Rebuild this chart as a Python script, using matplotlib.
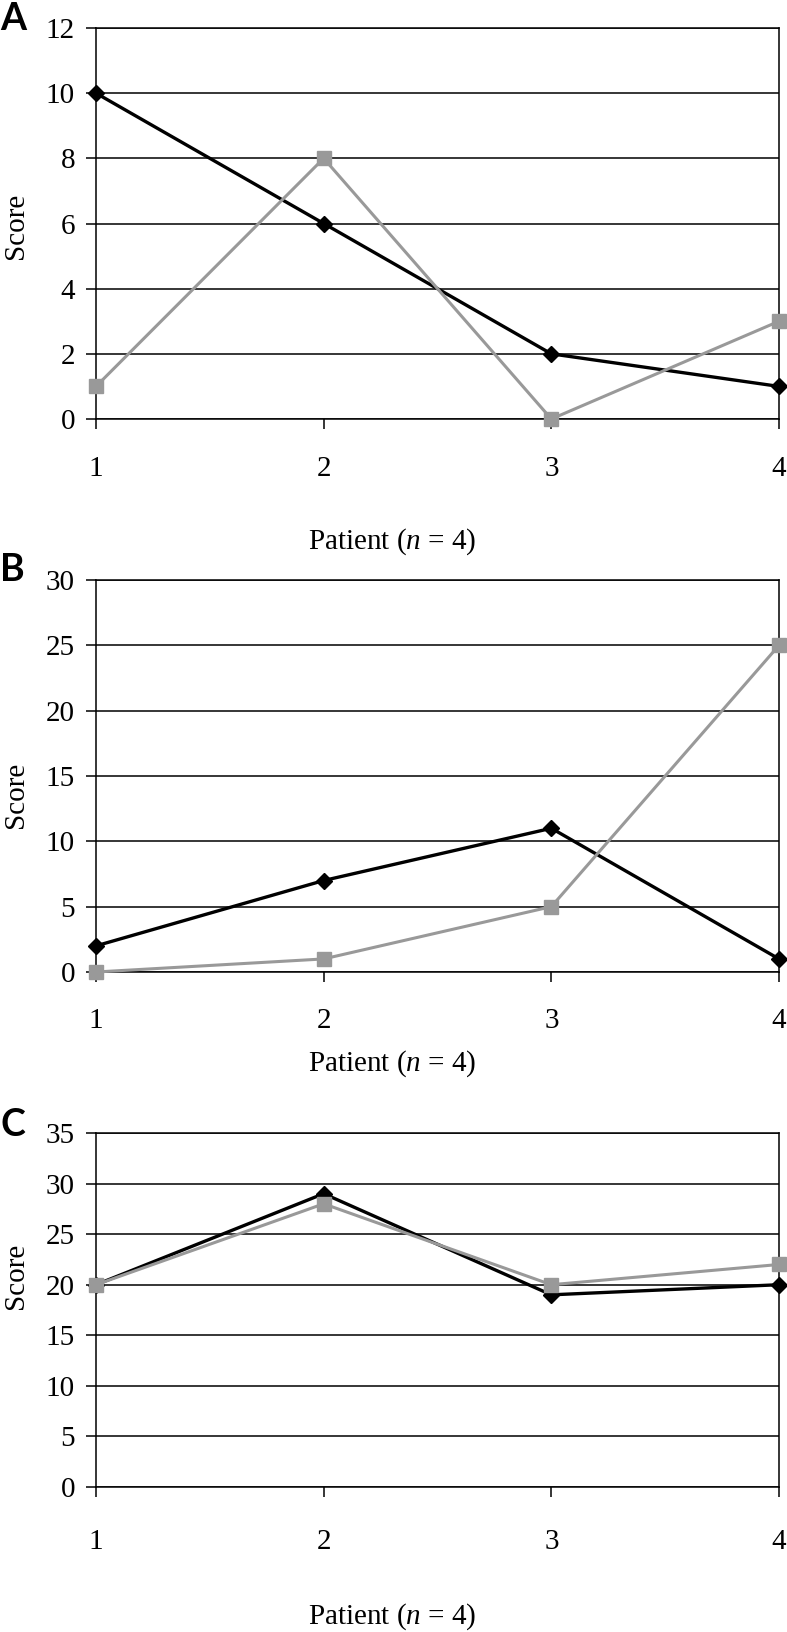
import matplotlib
matplotlib.use("Agg")
import matplotlib.pyplot as plt

plt.rcParams['font.family'] = ['Liberation Serif', 'DejaVu Serif']
plt.rcParams['mathtext.fontset'] = 'custom'
plt.rcParams['mathtext.rm'] = 'Liberation Serif'
plt.rcParams['mathtext.it'] = 'Liberation Serif:italic'

patients = [1, 2, 3, 4]
tick_labels = ['1', '2', '3', '4']

# panel A
a_black = [10, 6, 2, 1]
a_gray = [1, 8, 0, 3]
a_ymax, a_step = 12, 2

# panel B
b_black = [2, 7, 11, 1]
b_gray = [0, 1, 5, 25]
b_ymax, b_step = 30, 5

# panel C
c_black = [20, 29, 19, 20]
c_gray = [20, 28, 20, 22]
c_ymax, c_step = 35, 5

W, H = 787, 1632
DPI = 100
PX = 72 / DPI  # points per pixel
FS = 21

fig = plt.figure(figsize=(W / DPI, H / DPI), dpi=DPI)

# layout in pixels: left, top, right, bottom, tick label y, xlabel y, score y, letter y
layout = [
    ('A', a_black, a_gray, a_ymax, a_step, (96, 28, 779, 419), 468, 542, 226, 19),
    ('B', b_black, b_gray, b_ymax, b_step, (96, 580, 779, 972), 1020, 1064, 795, 570),
    ('C', c_black, c_gray, c_ymax, c_step, (96, 1133, 779, 1487), 1541, 1617, 1276, 1125),
]

for letter, black, gray, ymax, step, box, tick_y, xlab_y, score_y, letter_y in layout:
    l, t, r, b = box
    ax = fig.add_axes([l / W, 1 - b / H, (r - l) / W, (b - t) / H])
    ax.plot(patients, black, color='black', lw=2.4, marker='D', ms=8.5,
            clip_on=False, zorder=3)
    ax.plot(patients, gray, color='#999999', lw=2.2, marker='s', ms=9.5,
            clip_on=False, zorder=4)
    ax.set_xlim(1, 4)
    ax.set_ylim(0, ymax)
    ax.set_yticks(range(0, ymax + 1, step))
    ax.set_xticks(patients)
    ax.set_xticklabels(tick_labels)
    ax.grid(axis='y', color='black', lw=1.1)
    ax.set_axisbelow(True)
    for s in ax.spines.values():
        s.set_linewidth(1.1)
        s.set_color('black')
    ax.tick_params(axis='y', direction='out', length=10 * PX, width=1.1,
                   pad=11 * PX, labelsize=FS)
    ax.tick_params(axis='x', direction='out', length=10 * PX, width=1.1,
                   pad=(tick_y - 12 - b - 10) * PX, labelsize=FS)
    ax.set_xlabel('Patient ($n$ = 4)', fontsize=FS)
    ax.xaxis.label.set_va('center')
    ax.xaxis.set_label_coords((392 - l) / (r - l), (b - xlab_y) / (b - t))
    ax.set_ylabel('Score', fontsize=FS)
    ax.yaxis.label.set_va('center')
    ax.yaxis.set_label_coords((16 - l) / (r - l), (b - score_y) / (b - t))
    fig.text(0, 1 - letter_y / H, letter, family='Lato', weight='bold',
             fontsize=27, ha='left', va='center')

fig.savefig('out.png', dpi=DPI)
